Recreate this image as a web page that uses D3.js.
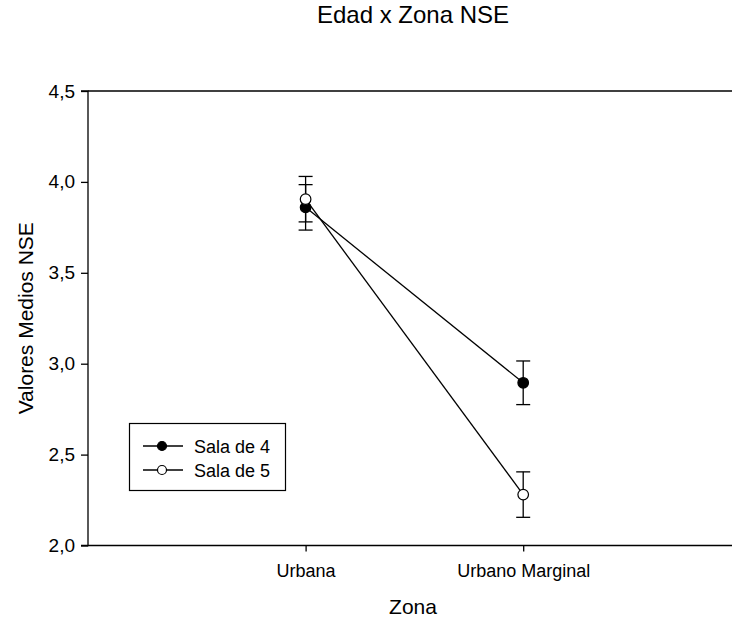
<!DOCTYPE html>
<html>
<head>
<meta charset="utf-8">
<script src="https://cdn.jsdelivr.net/npm/d3@7"></script>
<style>
  body { margin: 0; background: #fff; }
  svg text { font-family: "Liberation Sans", Arial, sans-serif; fill: #000; }
</style>
</head>
<body>
<div class="chart_wrapper"></div>
<script>
// values
const zonas = ["Urbana", "Urbano Marginal"]
const sala4 = [3.86, 2.895]
const sala4_err = [0.125, 0.12]
const sala5 = [3.905, 2.28]
const sala5_err = [0.125, 0.125]
const yTicks = [2.0, 2.5, 3.0, 3.5, 4.0, 4.5]

function drawChart () {

  let dimensions = {
    width: 732,
    height: 620,
    margin: { top: 91, left: 88, bottom: 74.5 },
  }
  dimensions.boundedHeight = dimensions.height - dimensions.margin.top - dimensions.margin.bottom

  const wrapper = d3.select(".chart_wrapper")
    .append("svg")
      .attr("width", dimensions.width)
      .attr("height", dimensions.height)

  const series = [
    { name: "Sala de 4", values: sala4, err: sala4_err, fill: "#000" },
    { name: "Sala de 5", values: sala5, err: sala5_err, fill: "#fff" },
  ]

  // categories sit at 1 and 2, axis runs 0..3 (right part falls off the page)
  const xScale = d3.scaleLinear()
    .domain([0, 3])
    .range([dimensions.margin.left, dimensions.margin.left + 217.6 * 3])

  const yScale = d3.scaleLinear()
    .domain([2, 4.5])
    .range([dimensions.margin.top + dimensions.boundedHeight, dimensions.margin.top])

  const fmt = d => d3.format(".1f")(d).replace(".", ",")

  // frame: top line
  wrapper.append("line")
    .attr("x1", xScale(0)).attr("x2", xScale(3))
    .attr("y1", yScale(4.5)).attr("y2", yScale(4.5))
    .attr("stroke", "#000").attr("stroke-width", 1.3)

  const yAxis = d3.axisLeft(yScale)
    .tickValues(yTicks)
    .tickFormat(fmt)
    .tickSize(7)
    .tickPadding(6)

  wrapper.append("g")
    .attr("transform", `translate(${xScale(0)},0)`)
    .call(yAxis)
    .call(g => g.selectAll("path, line").attr("stroke", "#000").attr("stroke-width", 1.3))
    .call(g => g.selectAll("text").style("font-size", "19px"))
    .call(g => g.select(".domain").attr("d", `M-7,${yScale(4.5)}H0V${yScale(2)}H-7`))

  const xAxis = d3.axisBottom(xScale)
    .tickValues([1, 2])
    .tickFormat((d, i) => zonas[i])
    .tickSize(6)
    .tickPadding(13)

  wrapper.append("g")
    .attr("transform", `translate(0,${yScale(2)})`)
    .call(xAxis)
    .call(g => g.selectAll("path, line").attr("stroke", "#000").attr("stroke-width", 1.3))
    .call(g => g.selectAll("text").style("font-size", "18px"))
    .call(g => g.select(".domain").attr("d", `M${xScale(0)},0H${xScale(3)}`))

  // titles
  wrapper.append("text")
    .attr("x", 413).attr("y", 23)
    .attr("text-anchor", "middle")
    .style("font-size", "24px")
    .text("Edad x Zona NSE")

  wrapper.append("text")
    .attr("x", 413).attr("y", 614)
    .attr("text-anchor", "middle")
    .style("font-size", "21px")
    .text("Zona")

  wrapper.append("text")
    .attr("transform", `translate(33,${yScale(3.25)}) rotate(-90)`)
    .attr("text-anchor", "middle")
    .style("font-size", "21px")
    .text("Valores Medios NSE")

  const line = d3.line()
    .x((d, i) => xScale(i + 1))
    .y(d => yScale(d))

  series.forEach(s => {
    wrapper.append("path")
      .attr("d", line(s.values))
      .attr("fill", "none")
      .attr("stroke", "#000")
      .attr("stroke-width", 1.3)

    const g = wrapper.append("g")
    s.values.forEach((v, i) => {
      const cx = xScale(i + 1)
      const lo = yScale(v - s.err[i])
      const hi = yScale(v + s.err[i])
      g.append("line").attr("x1", cx).attr("x2", cx).attr("y1", lo).attr("y2", hi)
        .attr("stroke", "#000").attr("stroke-width", 1.3)
      g.append("line").attr("x1", cx - 7).attr("x2", cx + 7).attr("y1", lo).attr("y2", lo)
        .attr("stroke", "#000").attr("stroke-width", 1.3)
      g.append("line").attr("x1", cx - 7).attr("x2", cx + 7).attr("y1", hi).attr("y2", hi)
        .attr("stroke", "#000").attr("stroke-width", 1.3)
    })
  })

  series.forEach(s => {
    wrapper.selectAll(null)
      .data(s.values)
      .enter()
      .append("circle")
        .attr("cx", (d, i) => xScale(i + 1))
        .attr("cy", d => yScale(d))
        .attr("r", 5.3)
        .attr("fill", s.fill)
        .attr("stroke", "#000")
        .attr("stroke-width", 1.2)
  })

  // legend
  const legend = wrapper.append("g")
  legend.append("rect")
    .attr("x", 129.5).attr("y", 423.5)
    .attr("width", 156).attr("height", 67)
    .attr("fill", "#fff").attr("stroke", "#000").attr("stroke-width", 1.2)

  series.forEach((s, i) => {
    const y = 446 + i * 24
    legend.append("line")
      .attr("x1", 143).attr("x2", 183).attr("y1", y).attr("y2", y)
      .attr("stroke", "#000").attr("stroke-width", 1.3)
    legend.append("circle")
      .attr("cx", 162).attr("cy", y).attr("r", 4.5)
      .attr("fill", s.fill).attr("stroke", "#000").attr("stroke-width", 1.2)
    legend.append("text")
      .attr("x", 194).attr("y", y + 6.5)
      .style("font-size", "18px")
      .text(s.name)
  })
}
drawChart()
</script>
</body>
</html>
